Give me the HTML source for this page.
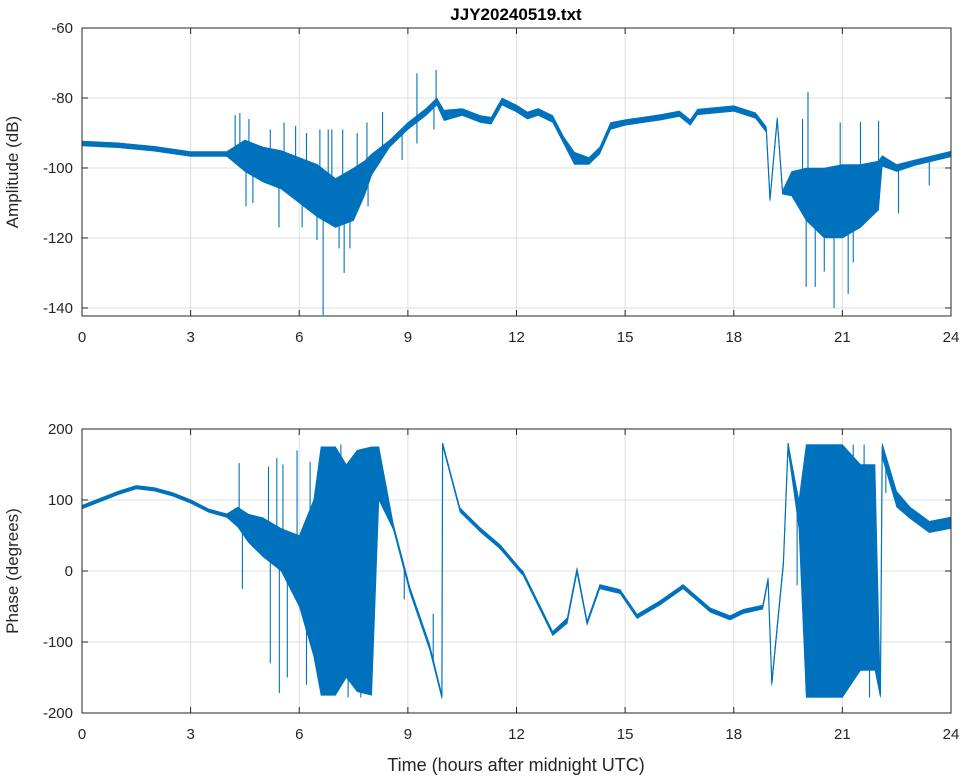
<!DOCTYPE html>
<html><head><meta charset="utf-8"><style>
body{margin:0;background:#fff;}
svg{display:block;font-family:"Liberation Sans",sans-serif;}
</style></head><body>
<svg id="c" width="964" height="778"></svg>
<script>
// ---- Data ----
const xTicks=[0,3,6,9,12,15,18,21,24];
const ampTicks=[-60,-80,-100,-120,-140];
const phTicks=[200,100,0,-100,-200];

const ampT  =[0,1,2,3,4,4.5,5,5.5,6,6.5,7,7.5,7.8,8,8.5,9,9.5,9.8,10,10.5,11,11.3,11.6,12,12.3,12.6,13,13.3,13.6,14,14.3,14.6,15,16,16.5,16.8,17,18,18.6,18.9,19.0,19.2,19.35,19.6,20,20.5,21,21.5,22,22.1,22.5,23,24];
const ampMid=[-93,-93.5,-94.5,-96,-96,-97,-98,-100,-103,-107,-110,-108,-104,-99,-93,-88,-84,-81,-85,-84,-86,-86.5,-81,-83,-85,-84,-86,-92,-97,-98,-95,-88,-87,-85.5,-84.5,-87,-84,-83,-85,-89,-109,-86,-107,-104,-106,-110,-110,-107,-104,-98,-100,-98.5,-96];
const ampLo =[-93.7,-94.2,-95.2,-96.7,-96.7,-101,-104,-106,-110,-114,-117,-115,-108,-102,-94,-89,-85,-82,-86.5,-85,-87,-87.5,-82,-84,-86,-85,-87,-93,-99,-99,-96,-89,-87.8,-86.3,-85.3,-87.8,-84.8,-83.8,-85.8,-89.8,-109.5,-86.5,-107.5,-108,-115,-120,-120,-117,-112,-99.5,-101,-99.3,-96.8];
const ampHi =[-92.3,-92.8,-93.8,-95.3,-95.3,-92,-94,-95,-97,-99,-103,-100,-98,-96,-92,-87,-83,-80,-83.5,-83,-85,-85.5,-80,-82,-84,-83,-85,-91,-95.5,-97,-94,-87,-86.2,-84.7,-83.7,-86.2,-83.2,-82.2,-84.2,-88.2,-108.5,-85.5,-106.5,-101,-100,-100,-99,-99,-98,-96.5,-99,-97.7,-95.2];
const ampSpikeT=[4.23,4.36,4.53,4.72,4.61,5.0,5.2,5.44,5.58,5.9,6.08,6.2,6.49,6.57,6.66,6.8,6.9,7.1,7.2,7.24,7.4,7.6,7.87,7.9,8.3,8.84,9.25,9.25,9.78,9.72,19.9,20.0,20.05,20.25,20.5,20.77,20.94,21.16,21.3,21.5,21.75,22.0,22.0,22.55,23.4];
const ampSpikeV=[-84.9,-84.3,-111,-110,-86,-100,-89,-117,-87,-88,-117,-90,-120.6,-89,-142,-89,-89,-123,-89,-130,-123,-90,-87,-111,-84,-97.7,-72.9,-93,-72,-89,-86,-134,-78.3,-134,-129.6,-140,-87,-136,-127,-86.8,-113.5,-86.5,-109,-113,-105];

const phT  =[0,0.5,1,1.5,2,2.5,3,3.5,4,4.3,4.6,5,5.5,6,6.4,6.6,7.0,7.3,7.6,8.0,8.2,8.6,9.06,9.6,9.94,9.96,10.44,11.0,11.55,12.1,12.18,13.0,13.4,13.67,13.95,14.3,14.86,15.33,15.96,16.6,17.35,17.9,18.26,18.8,18.95,19.05,19.37,19.5,19.8,20.0,20.5,21.0,21.5,21.9,22.05,22.1,22.5,22.87,23.4,24];
const phMid=[90,100,110,118,115,108,98,85,78,75,60,50,35,5,-30,0,0,0,0,0,140,62,-27,-107,-177,180,86,58,34,1,-3,-88,-70,1,-73,-22,-29,-64,-45,-22,-55,-66,-57,-51,-12,-158,11,180,82,0,0,0,0,0,-175,175,100,82,62,68];
const phLo =[87.5,97.5,107.5,115.5,112.5,105.5,95.5,82.5,75.5,62,40,20,0,-50,-120,-175,-175,-150,-170,-175,100,58,-31,-111,-180,176,83,55,31,-2,-6,-91,-74,-3,-76,-25,-32,-67,-48,-25,-58,-69,-60,-54,-15,-162,7,170,60,-178,-178,-178,-140,-140,-178,160,90,74,54,60];
const phHi =[92.5,102.5,112.5,120.5,117.5,110.5,100.5,87.5,80.5,90,80,75,60,50,100,175,175,150,170,175,175,66,-23,-103,-174,180,89,61,37,4,0,-85,-66,5,-70,-19,-26,-61,-42,-19,-52,-63,-54,-48,-9,-154,15,180,100,178,178,178,150,150,-170,180,112,90,70,76];
const phSpikeT=[4.34,4.43,5.15,5.2,5.38,5.45,5.55,5.67,5.94,6.3,6.2,7.15,7.35,7.5,7.7,8.4,8.9,9.7,19.75,21.6,21.75,22.0,21.3,22.2];
const phSpikeV=[152,-25,147,-130,159,-172,150,-150,170,154,-160,178,-178,150,-178,120,-40,-60,-20,178,-178,-160,178,110];

// ---- Drawing ----
const NS="http://www.w3.org/2000/svg";
const svg=document.getElementById('c');
const X0=82,X1=951;
function sx(t){return X0+(X1-X0)*t/24;}
function mk(tag,attrs,parent){const e=document.createElementNS(NS,tag);for(const k in attrs)e.setAttribute(k,attrs[k]);(parent||svg).appendChild(e);return e;}
const BLUE="#0072BD";

function interp(T,V,t){for(let i=0;i<T.length-1;i++){if(t>=T[i]&&t<=T[i+1]){const f=(t-T[i])/((T[i+1]-T[i])||1);return V[i]+f*(V[i+1]-V[i]);}}return V[V.length-1];}

function panel(name,top,bottom,vmax,vmin,yTicks,T,Mid,Lo,Hi,ST,SV,ylab){
  const sy=v=>top+(vmax-v)/(vmax-vmin)*(bottom-top);
  const g=mk('g',{});
  
  
  xTicks.forEach(t=>{const l=mk('line',{x1:sx(t),x2:sx(t),y1:top,y2:bottom,stroke:'#dfdfdf','stroke-width':1},g);
    });
  yTicks.forEach(v=>{const y=sy(v);if(y<top-0.5||y>bottom+0.5)return;const l=mk('line',{x1:X0,x2:X1,y1:y,y2:y,stroke:'#dfdfdf','stroke-width':1},g);
    });
  const cid='clip-'+name;
  const cp=mk('clipPath',{id:cid},g);mk('rect',{x:X0,y:top,width:X1-X0,height:bottom-top},cp);
  const dg=mk('g',{'clip-path':'url(#'+cid+')'},g);
  
  let pts=[];
  for(let i=0;i<T.length;i++)pts.push(sx(T[i]).toFixed(1)+','+sy(Hi[i]).toFixed(1));
  for(let i=T.length-1;i>=0;i--)pts.push(sx(T[i]).toFixed(1)+','+sy(Lo[i]).toFixed(1));
  const band=mk('polygon',{points:pts.join(' '),fill:BLUE,stroke:BLUE,'stroke-width':0.6},dg);
  
  const line=mk('polyline',{points:T.map((t,i)=>sx(t).toFixed(1)+','+sy(Mid[i]).toFixed(1)).join(' '),fill:'none',stroke:BLUE,'stroke-width':1.2},dg);
  
  ST.forEach((t,i)=>{const s=mk('line',{x1:sx(t),x2:sx(t),y1:sy(interp(T,Mid,t)),y2:sy(SV[i]),stroke:BLUE,'stroke-width':1.1},dg);
    });
  const box=mk('rect',{x:X0,y:top,width:X1-X0,height:bottom-top,fill:'none',stroke:'#262626','stroke-width':1},g);
  
  xTicks.forEach(t=>{mk('line',{x1:sx(t),x2:sx(t),y1:bottom,y2:bottom-6,stroke:'#262626'},g);mk('line',{x1:sx(t),x2:sx(t),y1:top,y2:top+6,stroke:'#262626'},g);
    const tx=mk('text',{x:sx(t),y:bottom+26,'text-anchor':'middle','font-size':15,fill:'#262626'},g);tx.textContent=t;
    });
  yTicks.forEach(v=>{const y=sy(v);if(y<top-0.5||y>bottom+0.5)return;
    mk('line',{x1:X0,x2:X0+6,y1:y,y2:y,stroke:'#262626'},g);mk('line',{x1:X1,x2:X1-6,y1:y,y2:y,stroke:'#262626'},g);
    const tx=mk('text',{x:X0-9,y:y+5,'text-anchor':'end','font-size':15,fill:'#262626'},g);tx.textContent=v;
    });
  const yl=mk('text',{x:0,y:0,transform:'translate(18,'+((top+bottom)/2)+') rotate(-90)','text-anchor':'middle','font-size':17,fill:'#262626'},g);
  yl.textContent=ylab;
}
panel('amplitude',28,316,-60,-142.3,ampTicks,ampT,ampMid,ampLo,ampHi,ampSpikeT,ampSpikeV,'Amplitude (dB)');
panel('phase',429,713,200,-200,phTicks,phT,phMid,phLo,phHi,phSpikeT,phSpikeV,'Phase (degrees)');

const title=mk('text',{x:516,y:20,'text-anchor':'middle','font-size':17,'font-weight':'bold',fill:'#000'});
title.textContent='JJY20240519.txt';


const xl=mk('text',{x:516,y:771,'text-anchor':'middle','font-size':18,fill:'#262626'});
xl.textContent='Time (hours after midnight UTC)';


</script>
</body></html>
